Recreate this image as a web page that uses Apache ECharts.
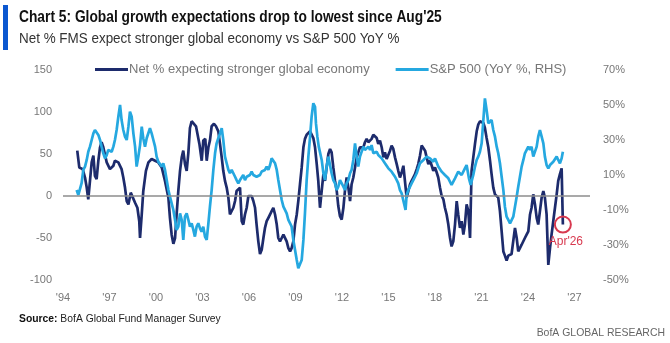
<!DOCTYPE html>
<html>
<head>
<meta charset="utf-8">
<script src="https://cdn.jsdelivr.net/npm/echarts@6/dist/echarts.min.js"></script>
<style>
  html, body { margin: 0; padding: 0; background: #ffffff; }
  #chart { width: 670px; height: 343px; }
</style>
</head>
<body>
<div id="chart"></div>
<script>
// Net % of fund managers expecting a stronger global economy (left axis)
const fmsDates = [
  1994.92, 1995.05, 1995.27, 1995.42, 1995.53, 1995.63, 1995.74, 1995.85, 1995.96, 1996.06,
  1996.17, 1996.28, 1996.39, 1996.49, 1996.60, 1996.82, 1997.03, 1997.25, 1997.35, 1997.57,
  1997.68, 1997.78, 1997.89, 1998.00, 1998.11, 1998.22, 1998.37, 1998.49, 1998.65, 1998.80,
  1998.92, 1998.97, 1999.08, 1999.18, 1999.35, 1999.51, 1999.72, 1999.94, 2000.15, 2000.37,
  2000.58, 2000.80, 2000.90, 2001.01, 2001.12, 2001.23, 2001.33, 2001.44, 2001.55, 2001.66,
  2001.76, 2001.87, 2001.98, 2002.09, 2002.19, 2002.30, 2002.41, 2002.58, 2002.67, 2002.80,
  2002.95, 2003.05, 2003.18, 2003.27, 2003.38, 2003.48, 2003.59, 2003.74, 2003.87, 2004.02,
  2004.13, 2004.24, 2004.34, 2004.45, 2004.56, 2004.67, 2004.77, 2004.88, 2004.99, 2005.10,
  2005.20, 2005.42, 2005.53, 2005.63, 2005.74, 2005.85, 2005.96, 2006.06, 2006.17, 2006.28,
  2006.39, 2006.49, 2006.60, 2006.71, 2006.82, 2006.93, 2007.03, 2007.14, 2007.25, 2007.36,
  2007.46, 2007.57, 2007.68, 2007.79, 2007.89, 2008.00, 2008.11, 2008.22, 2008.32, 2008.43,
  2008.54, 2008.65, 2008.75, 2008.86, 2008.97, 2009.08, 2009.18, 2009.29, 2009.40, 2009.51,
  2009.61, 2009.72, 2009.83, 2009.94, 2010.04, 2010.15, 2010.26, 2010.37, 2010.47, 2010.58,
  2010.69, 2010.80, 2010.90, 2011.01, 2011.12, 2011.23, 2011.33, 2011.44, 2011.55, 2011.66,
  2011.76, 2011.87, 2011.98, 2012.09, 2012.19, 2012.30, 2012.41, 2012.52, 2012.62, 2012.73,
  2012.84, 2012.95, 2013.05, 2013.16, 2013.38, 2013.48, 2013.59, 2013.70, 2013.81, 2013.91,
  2014.02, 2014.13, 2014.24, 2014.34, 2014.45, 2014.56, 2014.67, 2014.77, 2014.88, 2014.99,
  2015.10, 2015.20, 2015.31, 2015.42, 2015.53, 2015.63, 2015.74, 2015.85, 2015.96, 2016.06,
  2016.17, 2016.28, 2016.39, 2016.49, 2016.60, 2016.71, 2016.82, 2016.92, 2017.03, 2017.14,
  2017.25, 2017.36, 2017.46, 2017.57, 2017.68, 2017.79, 2017.89, 2018.00, 2018.11, 2018.21,
  2018.32, 2018.43, 2018.54, 2018.64, 2018.75, 2018.86, 2018.97, 2019.07, 2019.18, 2019.29,
  2019.40, 2019.50, 2019.61, 2019.72, 2019.83, 2019.93, 2020.04, 2020.15, 2020.26, 2020.36,
  2020.47, 2020.58, 2020.69, 2020.79, 2020.90, 2021.01, 2021.12, 2021.22, 2021.33, 2021.44,
  2021.55, 2021.65, 2021.76, 2021.87, 2021.98, 2022.08, 2022.19, 2022.30, 2022.41, 2022.51,
  2022.62, 2022.73, 2022.84, 2022.94, 2023.05, 2023.16, 2023.27, 2023.37, 2023.48, 2023.59,
  2023.80, 2023.91, 2024.02, 2024.13, 2024.23, 2024.34, 2024.45, 2024.56, 2024.66, 2024.77,
  2024.88, 2024.99, 2025.09, 2025.20, 2025.31, 2025.42, 2025.52, 2025.63, 2025.74, 2025.85,
  2025.95, 2026.06, 2026.17, 2026.25
];
const fmsNet = [
  54, 34, 32, 22, 10, -4, 18, 40, 48, 24,
  20, 42, 58, 64, 58, 40, 32, 36, 42, 40,
  42, 32, 22, 10, -6, -10, 4, 2, -8, -14,
  -30, -50, -22, 6, 30, 40, 44, 42, 40, 34,
  18, -2, -26, -46, -57, -50, -22, 6, 30, 46,
  54, 38, 30, 52, 81, 89, 91, 83, 81, 62,
  42, 66, 68, 42, 58, 66, 83, 86, 83, 77,
  62, 46, 30, 18, 10, -2, -22, -24, -14, -6,
  6, 10, -30, -34, -22, -14, 0, 2, 0, -6,
  -14, -34, -54, -69, -64, -50, -38, -30, -26, -22,
  -18, -14, -22, -34, -50, -54, -50, -46, -44, -54,
  -62, -66, -62, -54, -34, -22, -6, 14, 34, 58,
  68, 73, 73, 77, 77, 69, 58, 38, 18, -14,
  6, 26, 18, 34, 50, 56, 52, 34, 18, 6,
  -12, -24, -28, -14, 6, 22, 10, -6, 14, 22,
  34, 46, 52, 58, 58, 64, 68, 64, 62, 68,
  73, 73, 69, 62, 66, 58, 46, 52, 44, 42,
  54, 60, 56, 46, 38, 30, 22, 28, 36, 18,
  -2, 6, 14, 18, 22, 26, 32, 38, 48, 60,
  62, 54, 46, 38, 42, 36, 30, 34, 28, 22,
  10, 0, -4, -14, -22, -34, -50, -60, -54, -34,
  -6, -22, -38, -30, -46, -34, -10, -18, -50, 30,
  46, 62, 77, 85, 89, 90, 87, 81, 69, 58,
  42, 26, 10, 2, 0, -2, -18, -42, -66, -71,
  -77, -71, -73, -69, -68, -38, -50, -66, -62, -58,
  -50, -46, -42, -22, -14, 2, -10, -26, -34, -18,
  -2, 6, -2, -22, -82, -62, -46, -30, -14, 2,
  18, 26, 33, -34
];

// S&P 500 year-on-year change, % (right axis)
const spxDates = [
  1994.88, 1994.99, 1995.10, 1995.20, 1995.31, 1995.42, 1995.53, 1995.63, 1995.74, 1995.85,
  1995.96, 1996.06, 1996.17, 1996.28, 1996.39, 1996.49, 1996.60, 1996.71, 1996.82, 1996.92,
  1997.03, 1997.14, 1997.25, 1997.35, 1997.46, 1997.57, 1997.68, 1997.78, 1997.89, 1998.00,
  1998.11, 1998.22, 1998.32, 1998.43, 1998.54, 1998.65, 1998.75, 1998.86, 1998.97, 1999.08,
  1999.18, 1999.29, 1999.40, 1999.51, 1999.61, 1999.72, 1999.83, 1999.94, 2000.04, 2000.15,
  2000.26, 2000.37, 2000.47, 2000.58, 2000.69, 2000.80, 2000.90, 2001.01, 2001.12, 2001.23,
  2001.33, 2001.44, 2001.55, 2001.66, 2001.76, 2001.87, 2001.98, 2002.09, 2002.19, 2002.30,
  2002.41, 2002.51, 2002.62, 2002.73, 2002.84, 2002.94, 2003.05, 2003.16, 2003.27, 2003.38,
  2003.48, 2003.59, 2003.70, 2003.81, 2003.91, 2004.02, 2004.13, 2004.24, 2004.34, 2004.45,
  2004.56, 2004.67, 2004.77, 2004.88, 2004.99, 2005.10, 2005.20, 2005.31, 2005.42, 2005.53,
  2005.63, 2005.74, 2005.85, 2005.96, 2006.06, 2006.17, 2006.28, 2006.39, 2006.49, 2006.60,
  2006.71, 2006.82, 2006.93, 2007.03, 2007.14, 2007.25, 2007.36, 2007.46, 2007.57, 2007.68,
  2007.79, 2007.89, 2008.00, 2008.11, 2008.22, 2008.32, 2008.43, 2008.54, 2008.65, 2008.75,
  2008.86, 2008.97, 2009.08, 2009.18, 2009.29, 2009.40, 2009.51, 2009.61, 2009.72, 2009.83,
  2009.94, 2010.04, 2010.15, 2010.26, 2010.32, 2010.41, 2010.50, 2010.69, 2010.80, 2010.90,
  2011.01, 2011.12, 2011.33, 2011.44, 2011.55, 2011.66, 2011.76, 2011.87, 2011.98, 2012.09,
  2012.19, 2012.30, 2012.41, 2012.52, 2012.62, 2012.73, 2012.84, 2012.95, 2013.05, 2013.16,
  2013.38, 2013.48, 2013.59, 2013.70, 2013.81, 2013.91, 2014.02, 2014.13, 2014.24, 2014.34,
  2014.45, 2014.56, 2014.67, 2014.77, 2014.88, 2014.99, 2015.10, 2015.20, 2015.31, 2015.42,
  2015.53, 2015.63, 2015.74, 2015.85, 2015.96, 2016.10, 2016.17, 2016.28, 2016.39, 2016.49,
  2016.60, 2016.71, 2016.82, 2016.92, 2017.03, 2017.25, 2017.46, 2017.68, 2017.89, 2018.00,
  2018.21, 2018.43, 2018.64, 2018.86, 2019.07, 2019.29, 2019.50, 2019.72, 2019.93, 2020.04,
  2020.19, 2020.30, 2020.47, 2020.58, 2020.69, 2020.79, 2020.90, 2021.01, 2021.12, 2021.22,
  2021.33, 2021.44, 2021.55, 2021.65, 2021.76, 2021.87, 2021.98, 2022.08, 2022.19, 2022.30,
  2022.41, 2022.51, 2022.62, 2022.73, 2022.84, 2022.94, 2023.05, 2023.16, 2023.27, 2023.37,
  2023.48, 2023.59, 2023.70, 2023.80, 2023.91, 2024.02, 2024.13, 2024.23, 2024.34, 2024.45,
  2024.56, 2024.66, 2024.77, 2024.88, 2024.99, 2025.09, 2025.20, 2025.31, 2025.42, 2025.52,
  2025.63, 2025.74, 2025.85, 2025.95, 2026.06, 2026.17, 2026.25
];
const spxYoY = [
  1.4, -1.4, -0.5, 5.3, 12.9, 14.8, 18.6, 23.3, 26.2, 30,
  33.8, 35.7, 34.8, 32.9, 30, 26.2, 22.4, 19.5, 21.4, 24.3,
  25.2, 23.3, 26.2, 30, 35.7, 43.3, 50, 41.4, 35.7, 31.9,
  30, 37.6, 46.2, 43.3, 33.8, 26.2, 14.8, 20.5, 27.1, 37.6,
  31, 26.2, 31, 31.9, 36.7, 33.8, 30, 26.2, 20.5, 17.6,
  16.7, 14.8, 16.7, 12.9, 7.1, 1.4, -2.4, -6.2, -10, -15.7,
  -21.4, -19.5, -11.9, -15.7, -27.1, -13.8, -11.9, -15.7, -19.5, -17.6,
  -21.4, -25.2, -19.5, -17.6, -20.5, -22.4, -19.5, -25.2, -27.1, -17.6,
  -8.1, 1.4, 12.9, 22.4, 28.1, 31, 33.8, 36.7, 30, 20.5,
  16.7, 12.9, 11, 12.9, 11, 9, 7.1, 5.2, 7.1, 8.1,
  10, 7.1, 9, 8.1, 10, 11.9, 10, 11, 9, 8,
  10, 12, 11, 12.9, 14.8, 12.9, 15.7, 19.5, 18.6, 16.7,
  12.9, 7.1, 1.4, -4.3, -8.1, -7.1, -11.9, -15.7, -17.6, -19.5,
  -27.1, -32.9, -38.6, -43.3, -42.4, -38.6, -27.1, -11.9, 7.1, 20.5,
  31.9, 43.3, 51, 49, 39.5, 31.9, 26.2, 18.6, 11, 7.1,
  14.8, 20.5, 11, 7.1, 5.2, 1.4, 3.3, 7.1, 5.2, 3.3,
  1.4, 5.2, 7.1, 11, 12.9, 18.6, 28.1, 20.5, 14.8, 20.5,
  26.2, 24.3, 25.2, 26.2, 24.3, 27.1, 22.4, 21.4, 23.3, 21.4,
  20.5, 19.5, 18.6, 16.7, 15.7, 13.8, 12.9, 11.9, 11, 9,
  7.1, 5.2, 1.4, -0.5, -0.5, -10, -1.4, 1.4, 3.3, 5.2,
  7.1, 9, 11, 13.8, 16.7, 18.6, 20.5, 19.5, 17.6, 19.5,
  14.8, 11.9, 10, 8.1, 4.3, 8.1, 11.9, 10, 13.8, 15.7,
  8.1, 4.3, 10, 14.8, 18.6, 20.5, 23.3, 28.1, 41.4, 53.8,
  47.1, 39.5, 38.6, 41.4, 35.7, 31.9, 26.2, 22.4, 16.7, 9,
  1.4, -8.1, -13.8, -15.7, -17.6, -16.7, -13.8, -8.1, -2.4, 3.3,
  9, 14.8, 18.6, 22.4, 23.3, 26.2, 24.3, 26.2, 20.5, 21.4,
  26.2, 31.9, 35.7, 31.9, 28.1, 20.5, 15.7, 13.8, 15.7, 16.7,
  17.6, 18.6, 20.5, 18.6, 16.7, 19.5, 23.3
];

// Year labels along the bottom axis
const yearTicks = [1994, 1997, 2000, 2003, 2006, 2009, 2012, 2015, 2018, 2021, 2024, 2027];

const FMS_NAME = 'Net % expecting stronger global economy';
const SPX_NAME = 'S&P 500 (YoY %, RHS)';
const NAVY = '#1d2b6c';
const SKY = '#25a8e0';
const RED = '#d8394f';
const GREY = '#777777';
const FONT = "'Liberation Sans', Arial, sans-serif";

const zip = (xs, ys) => xs.map((x, i) => [x, ys[i]]);
const latestIdx = fmsDates.length - 1;

const chart = echarts.init(document.getElementById('chart'), null, { renderer: 'canvas' });

chart.setOption({
  animation: false,
  backgroundColor: '#ffffff',
  textStyle: { fontFamily: FONT },
  grid: { left: 63, right: 80, top: 70, bottom: 63 },
  legend: {
    left: 95,
    top: 63,
    padding: 0,
    itemGap: 26,
    itemWidth: 33,
    itemHeight: 3,
    icon: 'rect',
    textStyle: { color: GREY, fontSize: 13, fontFamily: FONT, padding: [0, 0, 0, -4] },
    data: [FMS_NAME, SPX_NAME]
  },
  xAxis: {
    type: 'value',
    min: 1994,
    max: 2028,
    axisLine: { show: false },
    axisTick: { show: false },
    splitLine: { show: false },
    axisLabel: {
      customValues: yearTicks,
      formatter: v => "'" + String(v).slice(2),
      color: GREY,
      fontSize: 11,
      margin: 12,
      fontFamily: FONT
    }
  },
  yAxis: [
    {
      type: 'value',
      min: -100,
      max: 150,
      interval: 50,
      axisLine: { show: false },
      axisTick: { show: false },
      splitLine: { show: false },
      axisLabel: { color: GREY, fontSize: 11, margin: 11, fontFamily: FONT }
    },
    {
      type: 'value',
      position: 'right',
      min: -50,
      max: 70,
      interval: 20,
      axisLine: { show: false },
      axisTick: { show: false },
      splitLine: { show: false },
      axisLabel: { color: GREY, fontSize: 11, margin: 13, formatter: '{value}%', fontFamily: FONT }
    }
  ],
  series: [
    {
      name: FMS_NAME,
      type: 'line',
      yAxisIndex: 0,
      data: zip(fmsDates, fmsNet),
      showSymbol: false,
      color: NAVY,
      lineStyle: { color: NAVY, width: 2.7 },
      z: 2,
      markLine: {
        silent: true,
        symbol: 'none',
        label: { show: false },
        lineStyle: { color: '#8c8c8c', width: 1.5, type: 'solid' },
        data: [{ yAxis: 0 }]
      },
      markPoint: {
        symbol: 'circle',
        symbolSize: 16,
        silent: true,
        itemStyle: { color: 'rgba(0,0,0,0)', borderColor: RED, borderWidth: 2 },
        label: {
          show: true,
          position: 'bottom',
          distance: 2,
          offset: [3, 0],
          formatter: "Apr'26",
          color: RED,
          fontSize: 12,
          fontFamily: FONT
        },
        data: [{ coord: [fmsDates[latestIdx], fmsNet[latestIdx]] }]
      }
    },
    {
      name: SPX_NAME,
      type: 'line',
      yAxisIndex: 1,
      data: zip(spxDates, spxYoY),
      showSymbol: false,
      color: SKY,
      lineStyle: { color: SKY, width: 2.7 },
      z: 3
    }
  ],
  graphic: [
    { type: 'rect', x: 3, y: 5, shape: { width: 5, height: 45 }, style: { fill: '#0b57d0' } },
    {
      type: 'text', x: 19, y: 9, scaleX: 0.835,
      style: { text: "Chart 5: Global growth expectations drop to lowest since Aug'25", fill: '#111111',
               font: "bold 16.5px " + FONT, verticalAlign: 'top' }
    },
    {
      type: 'text', x: 19, y: 32, scaleX: 0.96,
      style: { text: 'Net % FMS expect stronger global economy vs S&P 500 YoY %', fill: '#333333',
               font: "14px " + FONT, verticalAlign: 'top' }
    },
    {
      type: 'text', x: 19, y: 313, scaleX: 0.94,
      style: {
        text: '{b|Source:} BofA Global Fund Manager Survey',
        font: "11px " + FONT,
        fill: '#222222',
        verticalAlign: 'top',
        rich: { b: { fontWeight: 'bold', fontSize: 11, fontFamily: FONT, fill: '#111111' } }
      }
    },
    {
      type: 'text', x: 665, y: 327, scaleX: 0.95,
      style: { text: 'BofA GLOBAL RESEARCH', fill: '#666666', font: "11px " + FONT,
               align: 'right', verticalAlign: 'top' }
    }
  ]
});
</script>
</body>
</html>
